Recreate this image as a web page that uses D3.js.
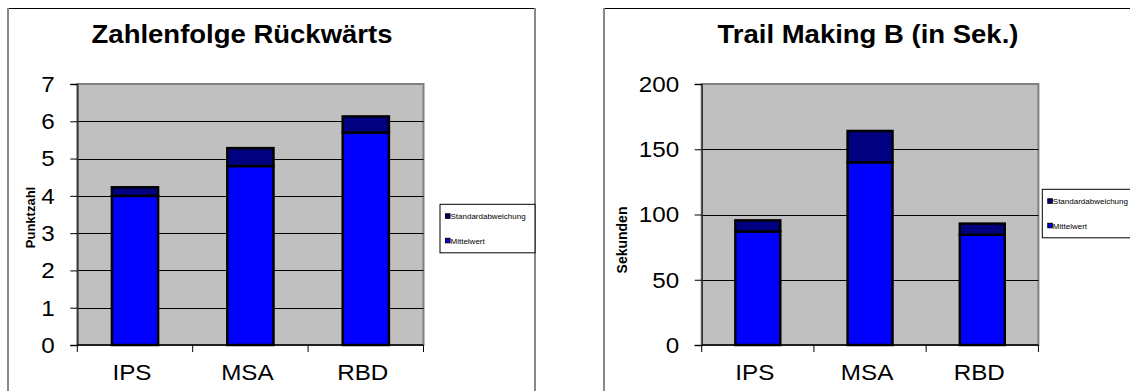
<!DOCTYPE html>
<html>
<head>
<meta charset="utf-8">
<script src="https://cdn.jsdelivr.net/npm/d3@7"></script>
<style>
  html, body { margin: 0; padding: 0; background: #fff; }
  svg { display: block; }
</style>
</head>
<body>
<svg id="chart" width="1130" height="391"></svg>
<script>
// Categories shared by both charts
const categories = ["IPS", "MSA", "RBD"];

// Zahlenfolge Rückwärts (Punktzahl)
const digitMean = [4.0, 4.8, 5.7];
const digitSD = [0.23, 0.48, 0.43];
const digitTicks = [0, 1, 2, 3, 4, 5, 6, 7];

// Trail Making B (Sekunden)
const trailMean = [87, 140, 84.5];
const trailSD = [8.5, 24, 8.5];
const trailTicks = [0, 50, 100, 150, 200];

const legendLabels = ["Standardabweichung", "Mittelwert"];

const FONT = "'Liberation Sans', Arial, Helvetica, sans-serif";
const MEAN_COLOR = "#0000FF";
const SD_COLOR = "#000080";
const STRETCH = 1.1;

const svg = d3.select("#chart");

// text drawn slightly wider than the font's natural proportions
function wideText(parent, x, y, str, size, opts = {}) {
  return parent.append("text")
    .attr("transform", `translate(${x},${y}) scale(${STRETCH},1)`)
    .attr("font-family", FONT)
    .attr("font-size", size)
    .attr("font-weight", opts.bold ? "bold" : "normal")
    .attr("text-anchor", opts.anchor || "start")
    .attr("fill", "#000")
    .text(str);
}

function drawChart(cfg) {
  const g = svg.append("g");

  // chart area frame
  g.append("line").attr("x1", cfg.frameX0).attr("x2", cfg.frameX1)
    .attr("y1", 8.5).attr("y2", 8.5).attr("stroke", "#000").attr("stroke-width", 1);
  g.append("line").attr("x1", cfg.frameX0).attr("x2", cfg.frameX0)
    .attr("y1", 8).attr("y2", 391).attr("stroke", "#888").attr("stroke-width", 2);
  if (cfg.frameX1 < 1130) {
    g.append("line").attr("x1", cfg.frameX1).attr("x2", cfg.frameX1)
      .attr("y1", 8).attr("y2", 391).attr("stroke", "#888").attr("stroke-width", 2);
  }

  const x = d3.scaleBand().domain(categories)
    .range([cfg.plotX0, cfg.plotX1]).paddingInner(0.6).paddingOuter(0.3);
  const y = d3.scaleLinear().domain(cfg.domain).range([345, 84]);

  // plot area
  g.append("rect")
    .attr("x", cfg.plotX0).attr("y", y(cfg.domain[1]))
    .attr("width", cfg.plotX1 - cfg.plotX0).attr("height", y(cfg.domain[0]) - y(cfg.domain[1]))
    .attr("fill", "#C0C0C0").attr("stroke", "#808080").attr("stroke-width", 2);

  // gridlines
  g.selectAll(".grid").data(cfg.ticks.filter(t => t > cfg.domain[0] && t < cfg.domain[1]))
    .enter().append("line")
    .attr("x1", cfg.plotX0).attr("x2", cfg.plotX1)
    .attr("y1", d => Math.round(y(d)) + 0.5).attr("y2", d => Math.round(y(d)) + 0.5)
    .attr("stroke", "#000").attr("stroke-width", 1);

  // bars: mean segment and SD segment stacked
  const stacked = categories.map((c, i) => ({ c, mean: cfg.mean[i], sd: cfg.sd[i] }));
  const bars = g.selectAll(".bar").data(stacked).enter().append("g");
  bars.append("rect")
    .attr("x", d => x(d.c)).attr("width", x.bandwidth())
    .attr("y", d => y(d.mean)).attr("height", d => y(0) - y(d.mean))
    .attr("fill", MEAN_COLOR).attr("stroke", "#000").attr("stroke-width", 2.5);
  bars.append("rect")
    .attr("x", d => x(d.c)).attr("width", x.bandwidth())
    .attr("y", d => y(d.mean + d.sd)).attr("height", d => y(d.mean) - y(d.mean + d.sd))
    .attr("fill", SD_COLOR).attr("stroke", "#000").attr("stroke-width", 2.5);

  // y axis
  const yAxis = d3.axisLeft(y).tickValues(cfg.ticks).tickSize(7).tickFormat("");
  const ya = g.append("g").attr("transform", `translate(${cfg.plotX0},0)`).call(yAxis);
  ya.select(".domain").attr("stroke", "#333").attr("stroke-width", 1.5);
  ya.selectAll(".tick line").attr("stroke", "#000");
  cfg.ticks.forEach(t => {
    wideText(g, cfg.plotX0 - 22.5, y(t) + 7.8, String(t), 22, { anchor: "end" });
  });

  // x axis with ticks on category boundaries
  const step = x.step();
  const bounds = d3.range(categories.length + 1).map(i => cfg.plotX0 + i * step);
  g.append("line").attr("x1", cfg.plotX0).attr("x2", cfg.plotX1)
    .attr("y1", y(0)).attr("y2", y(0)).attr("stroke", "#000").attr("stroke-width", 1.5);
  g.selectAll(".xtick").data(bounds).enter().append("line")
    .attr("x1", d => d).attr("x2", d => d)
    .attr("y1", y(0)).attr("y2", y(0) + 7)
    .attr("stroke", "#000").attr("stroke-width", 1);
  categories.forEach(c => {
    wideText(g, x(c) + x.bandwidth() / 2 - 3, 380, c, 22, { anchor: "middle" });
  });

  // title
  wideText(g, cfg.titleX, 43, cfg.title, 25, { bold: true, anchor: "middle" });

  // y axis title
  g.append("text")
    .attr("transform", `translate(${cfg.yTitleX},${cfg.yTitleY}) rotate(-90)`)
    .attr("font-family", FONT).attr("font-size", cfg.yTitleSize).attr("font-weight", "bold")
    .attr("text-anchor", "middle").attr("dominant-baseline", "central")
    .text(cfg.yTitle);

  // legend
  const lg = g.append("g").attr("transform", `translate(${cfg.legX},${cfg.legY})`);
  lg.append("rect").attr("x", 0).attr("y", 0).attr("width", cfg.legW).attr("height", 48.5)
    .attr("fill", "#fff").attr("stroke", "#000").attr("stroke-width", 1);
  const legColors = [SD_COLOR, MEAN_COLOR];
  legendLabels.forEach((lab, i) => {
    const yy = 9.5 + i * 24.5;
    lg.append("rect").attr("x", 5.5).attr("y", yy).attr("width", 4.5).attr("height", 4.5)
      .attr("fill", legColors[i]).attr("stroke", "#000").attr("stroke-width", 1);
    lg.append("text").attr("x", 10.5).attr("y", yy + 5.3)
      .attr("font-family", FONT).attr("font-size", 8).attr("fill", "#000")
      .text(lab);
  });
}

drawChart({
  title: "Zahlenfolge Rückwärts", titleX: 242,
  yTitle: "Punktzahl", yTitleX: 30, yTitleY: 217.5, yTitleSize: 13,
  mean: digitMean, sd: digitSD, ticks: digitTicks, domain: [0, 7],
  frameX0: 8, frameX1: 535,
  plotX0: 77.3, plotX1: 423.5,
  legX: 440, legY: 204.3, legW: 95
});

drawChart({
  title: "Trail Making B (in Sek.)", titleX: 868,
  yTitle: "Sekunden", yTitleX: 621.7, yTitleY: 240, yTitleSize: 14,
  mean: trailMean, sd: trailSD, ticks: trailTicks, domain: [0, 200],
  frameX0: 604, frameX1: 1140,
  plotX0: 701.7, plotX1: 1038.4,
  legX: 1042.3, legY: 189.3, legW: 100
});
</script>
</body>
</html>
